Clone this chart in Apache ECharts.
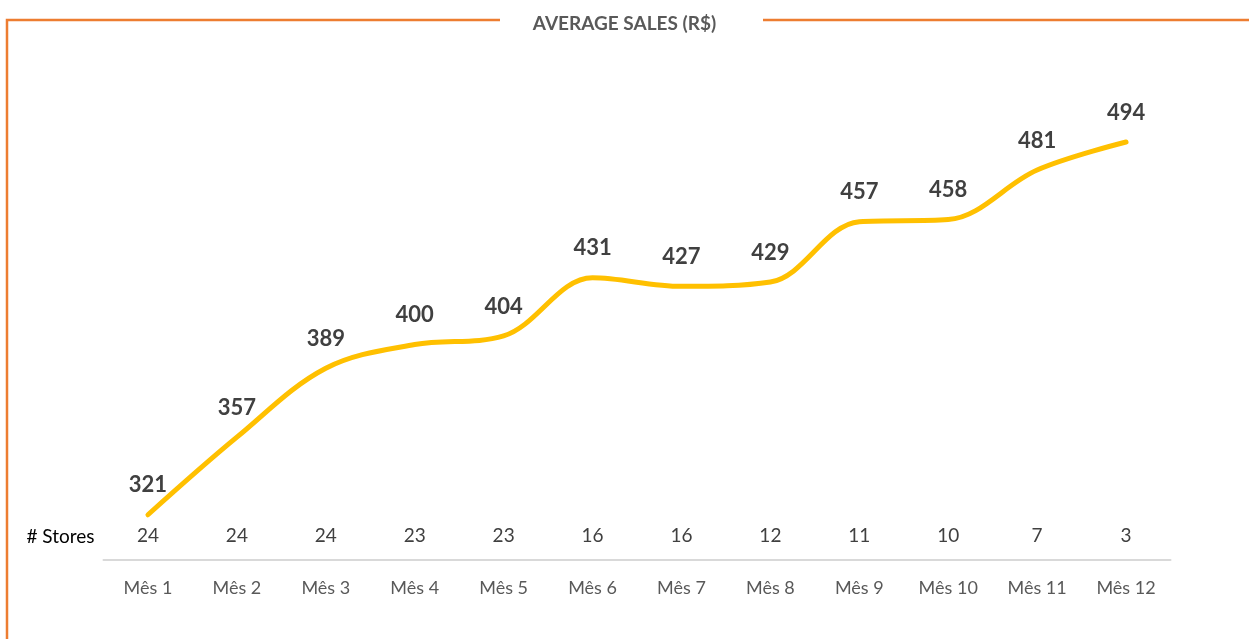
<!DOCTYPE html>
<html>
<head>
<meta charset="utf-8">
<script src="https://cdn.jsdelivr.net/npm/echarts@6/dist/echarts.min.js"></script>
<style>
  html, body { margin: 0; padding: 0; background: #fff; }
  #main { width: 1249px; height: 639px; }
</style>
</head>
<body>
<div id="main"></div>
<script>
// dados do gráfico
const months = ['Mês 1', 'Mês 2', 'Mês 3', 'Mês 4', 'Mês 5', 'Mês 6', 'Mês 7', 'Mês 8', 'Mês 9', 'Mês 10', 'Mês 11', 'Mês 12'];
const avgSales = [321, 357, 389, 400, 404, 431, 427, 429, 457, 458, 481, 494];
const stores = ['24', '24', '24', '23', '23', '16', '16', '12', '11', '10', '7', '3'];

const FONT = 'Lato, "Open Sans", sans-serif';
const ORANGE = '#ED7D31';

const chart = echarts.init(document.getElementById('main'));

const option = {
  backgroundColor: '#fff',
  textStyle: { fontFamily: FONT },
  title: {
    text: 'AVERAGE SALES (R$)',
    left: 'center',
    top: 9,
    textStyle: { fontFamily: FONT, fontSize: 19, fontWeight: 'bold', color: '#595959' },
  },
  // moldura laranja
  graphic: [
    {
      type: 'polyline',
      shape: { points: [[7, 639], [7, 20], [500, 20]] },
      style: { stroke: ORANGE, lineWidth: 2.5, fill: null },
    },
    {
      type: 'line',
      shape: { x1: 763, y1: 20, x2: 1249, y2: 20 },
      style: { stroke: ORANGE, lineWidth: 2.5 },
    },
  ],
  grid: { left: 103.5, right: 78.5, top: 86, bottom: 79 },
  xAxis: [
    {
      type: 'category',
      data: months,
      boundaryGap: true,
      axisLine: { lineStyle: { color: '#d9d9d9', width: 2 } },
      axisTick: { show: false },
      axisLabel: { color: '#595959', fontSize: 18, margin: 19, fontFamily: FONT },
    },
    {
      type: 'category',
      data: stores,
      position: 'bottom',
      offset: -34,
      axisLine: { show: false },
      axisTick: { show: false },
      axisLabel: { color: '#404040', fontSize: 19, margin: 0, fontFamily: FONT },
      name: '# Stores',
      nameLocation: 'start',
      nameGap: 9,
      nameTextStyle: { color: '#000', fontSize: 19, fontFamily: FONT, verticalAlign: 'top', padding: [1, 0, 0, 0] },
    },
  ],
  yAxis: {
    type: 'value',
    min: 300,
    max: 520,
    show: false,
    splitLine: { show: false },
  },
  series: [
    {
      type: 'line',
      data: avgSales,
      smooth: 0.35,
      showSymbol: true,
      symbol: 'circle',
      symbolSize: 1,
      itemStyle: { color: 'rgba(0,0,0,0)' },
      lineStyle: { color: '#FFC000', width: 5, cap: 'round' },
      label: {
        show: true,
        position: 'top',
        distance: 18,
        color: '#404040',
        fontSize: 22,
        fontWeight: 'bold',
        fontFamily: FONT,
      },
    },
  ],
};

chart.setOption(option);
</script>
</body>
</html>
